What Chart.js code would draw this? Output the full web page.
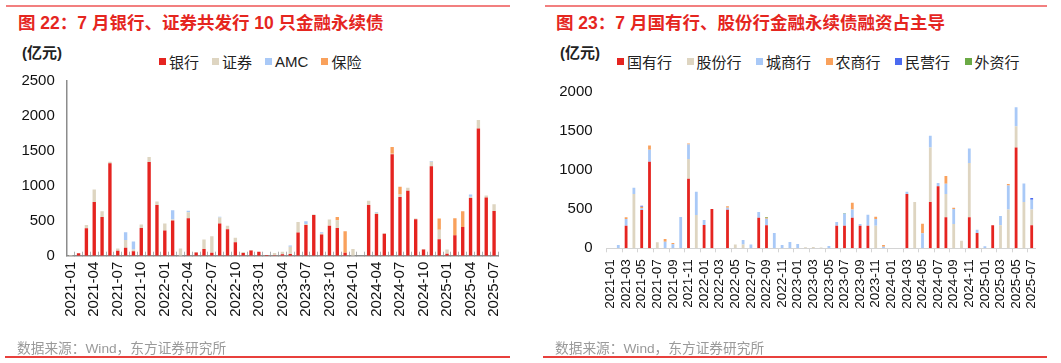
<!DOCTYPE html>
<html>
<head>
<meta charset="utf-8">
<script src="https://cdn.jsdelivr.net/npm/chart.js@4.4.1/dist/chart.umd.min.js"></script>
<style>
  body { margin: 0; width: 1061px; height: 363px; overflow: hidden; background: #fff;
         font-family: "Liberation Sans", "Noto Sans CJK SC", sans-serif; }
  .line-top { position: absolute; top: 5px; height: 2px; background: #F27F7F; }
  .line-bottom { position: absolute; top: 356px; height: 1.5px; background: #E8403C; }
  .title { position: absolute; top: 9px; font-size: 17.5px; font-weight: bold; color: #E5261F; white-space: nowrap; }
  .unit { position: absolute; top: 41px; font-size: 15px; font-weight: bold; color: #222; white-space: nowrap; }
  .source { position: absolute; top: 337px; font-size: 13.7px; color: #9a9a9a; white-space: nowrap; }
  .legend { position: absolute; top: 51px; height: 20px; display: flex; align-items: center; font-size: 15px; color: #222; white-space: nowrap; }
  .legend .item { display: flex; align-items: center; }
  .legend .box { width: 7px; height: 7px; margin-right: 3px; }
  canvas { position: absolute; top: 0; }
</style>
</head>
<body>

<div class="line-top" style="left:6px; width:504px;"></div>
<div class="title" style="left:18px;">图 22：7 月银行、证券共发行 10 只金融永续债</div>
<div class="unit" style="left:22px;">(亿元)</div>
<div class="legend" id="legend-issuer" style="left:159px;"></div>
<canvas id="issuer-chart" width="530" height="340" style="left:0;"></canvas>
<div class="source" style="left:17px;">数据来源：Wind，东方证券研究所</div>
<div class="line-bottom" style="left:5px; width:505px;"></div>

<div class="line-top" style="left:545px; width:502px;"></div>
<div class="title" style="left:556px;">图 23：7 月国有行、股份行金融永续债融资占主导</div>
<div class="unit" style="left:560px;">(亿元)</div>
<div class="legend" id="legend-bank" style="left:617px;"></div>
<canvas id="bank-chart" width="531" height="340" style="left:530px;"></canvas>
<div class="source" style="left:555px;">数据来源：Wind，东方证券研究所</div>
<div class="line-bottom" style="left:543px; width:504px;"></div>

<script>
// --- Data (亿元), monthly 2021-01 .. 2025-07 ---

const months = [
    '2021-01', '2021-02', '2021-03', '2021-04', '2021-05', '2021-06', '2021-07', '2021-08', '2021-09', '2021-10', '2021-11', '2021-12',
    '2022-01', '2022-02', '2022-03', '2022-04', '2022-05', '2022-06', '2022-07', '2022-08', '2022-09', '2022-10', '2022-11', '2022-12',
    '2023-01', '2023-02', '2023-03', '2023-04', '2023-05', '2023-06', '2023-07', '2023-08', '2023-09', '2023-10', '2023-11', '2023-12',
    '2024-01', '2024-02', '2024-03', '2024-04', '2024-05', '2024-06', '2024-07', '2024-08', '2024-09', '2024-10', '2024-11', '2024-12',
    '2025-01', '2025-02', '2025-03', '2025-04', '2025-05', '2025-06', '2025-07'
];

// Chart 22: by issuer type
const issuerLabels = ['银行', '证券', 'AMC', '保险'];
const issuerBank = [
    0, 35, 393, 768, 555, 1322, 71, 114, 62, 398, 1341, 725,
    360, 502, 0, 536, 47, 95, 43, 460, 379, 194, 38, 76,
    57, 10, 5, 19, 24, 332, 441, 583, 303, 427, 398, 43,
    0, 0, 725, 597, 313, 1450, 839, 929, 521, 90, 1280, 237,
    28, 294, 412, 825, 1820, 834, 640
];
const issuerSecurities = [
    10, 0, 48, 180, 80, 24, 33, 109, 28, 48, 72, 52,
    100, 15, 104, 85, 5, 137, 237, 85, 48, 62, 14, 4,
    0, 0, 33, 38, 104, 151, 14, 5, 15, 90, 109, 0,
    95, 0, 62, 19, 9, 10, 38, 43, 10, 5, 66, 133,
    62, 0, 0, 19, 123, 29, 95
];
const issuerAmc = [
    0, 0, 0, 0, 0, 0, 0, 114, 114, 0, 0, 0,
    0, 132, 0, 24, 0, 0, 0, 14, 0, 0, 0, 0,
    0, 0, 0, 0, 19, 0, 38, 0, 19, 0, 0, 0,
    0, 0, 0, 10, 0, 0, 0, 0, 0, 0, 10, 0,
    0, 0, 0, 33, 0, 0, 0
];
const issuerInsurance = [
    0, 0, 0, 0, 0, 0, 0, 0, 0, 0, 0, 0,
    0, 0, 0, 0, 0, 0, 0, 0, 0, 0, 0, 0,
    0, 0, 0, 0, 0, 0, 0, 0, 0, 0, 48, 308,
    0, 0, 0, 0, 0, 95, 109, 0, 0, 0, 0, 161,
    0, 242, 223, 0, 0, 0, 0
];

// Chart 23: banks by type
const bankLabels = ['国有行', '股份行', '城商行', '农商行', '民营行', '外资行'];
const bankStateOwned = [
    0, 0, 289, 0, 490, 1105, 0, 0, 0, 0, 888, 0,
    298, 502, 0, 493, 0, 0, 0, 391, 293, 0, 0, 0,
    0, 0, 0, 0, 0, 289, 289, 391, 289, 289, 0, 0,
    0, 0, 693, 0, 0, 591, 791, 395, 0, 0, 395, 196,
    0, 293, 0, 0, 1288, 0, 293
];
const bankJointStock = [
    0, 0, 0, 693, 0, 0, 77, 0, 0, 0, 251, 425,
    0, 0, 0, 0, 47, 47, 0, 0, 0, 0, 0, 0,
    0, 13, 17, 10, 0, 0, 0, 0, 0, 0, 289, 0,
    0, 0, 0, 591, 0, 697, 0, 298, 310, 98, 693, 0,
    0, 0, 293, 497, 272, 591, 204
];
const bankCity = [
    0, 42, 85, 80, 20, 153, 0, 85, 51, 400, 187, 298,
    63, 0, 0, 25, 0, 59, 47, 72, 85, 196, 42, 81,
    55, 0, 0, 0, 30, 47, 157, 106, 21, 140, 85, 21,
    0, 0, 30, 0, 191, 149, 42, 132, 192, 0, 187, 42,
    26, 0, 119, 306, 242, 238, 123
];
const bankRural = [
    0, 0, 21, 0, 22, 55, 0, 34, 17, 0, 13, 0,
    0, 0, 0, 18, 0, 0, 0, 0, 13, 0, 0, 0,
    0, 0, 0, 0, 0, 0, 0, 85, 0, 0, 30, 21,
    0, 0, 0, 0, 124, 0, 0, 97, 17, 0, 0, 0,
    0, 0, 0, 17, 0, 0, 0
];
const bankPrivate = [
    0, 0, 0, 0, 12, 0, 0, 0, 0, 0, 0, 0,
    0, 0, 0, 0, 0, 0, 0, 0, 0, 0, 0, 0,
    0, 0, 0, 0, 0, 0, 0, 0, 0, 0, 0, 0,
    0, 0, 0, 0, 0, 0, 0, 0, 0, 0, 0, 0,
    0, 0, 0, 0, 0, 0, 22
];
const bankForeign = [
    0, 0, 0, 0, 0, 0, 0, 0, 0, 0, 0, 0,
    0, 0, 0, 0, 0, 0, 0, 0, 9, 0, 0, 0,
    0, 0, 0, 0, 0, 0, 4, 0, 0, 0, 0, 0,
    0, 0, 0, 0, 0, 0, 0, 0, 0, 0, 0, 0,
    0, 0, 0, 0, 0, 0, 0
];

const RED = '#E52420';
const BEIGE = '#DED5C1';
const LIGHT_BLUE = '#A9C9F7';
const ORANGE = '#F9A15C';
const BLUE = '#4B6AF0';
const GREEN = '#6BAA45';

Chart.defaults.font.family = '"Liberation Sans", "Noto Sans CJK SC", sans-serif';
Chart.defaults.color = '#111';

// Simple HTML legend from the chart's datasets
function buildLegend(containerId, chart, gap) {
    const el = document.getElementById(containerId);
    el.innerHTML = chart.data.datasets.map((ds, i) =>
        `<span class="item" style="margin-right:${i < chart.data.datasets.length - 1 ? gap : 0}px">` +
        `<span class="box" style="background:${ds.backgroundColor}"></span>${ds.label}</span>`
    ).join('');
}

function makeDataset(label, data, color, pct) {
    return {
        label: label,
        data: data,
        backgroundColor: color,
        borderWidth: 0,
        barPercentage: pct,
        categoryPercentage: 1
    };
}

// plain numbers on the value axis (no thousands separator)
const plainTick = (value) => String(value);

function renderIssuerChart() {
    const ctx = document.getElementById('issuer-chart');
    const chart = new Chart(ctx, {
        type: 'bar',
        data: {
            labels: months,
            datasets: [
                makeDataset(issuerLabels[0], issuerBank, RED, 0.43),
                makeDataset(issuerLabels[1], issuerSecurities, BEIGE, 0.43),
                makeDataset(issuerLabels[2], issuerAmc, LIGHT_BLUE, 0.43),
                makeDataset(issuerLabels[3], issuerInsurance, ORANGE, 0.43)
            ]
        },
        options: {
            responsive: false,
            animation: false,
            layout: { padding: { left: 0, right: 32, top: 81, bottom: 0 } },
            plugins: { legend: { display: false }, tooltip: { enabled: false } },
            scales: {
                x: {
                    stacked: true,
                    afterFit: (scale) => { scale.height = 84.3; },
                    border: { display: true, color: '#8c8c8c', width: 1.5 },
                    // small tick marks pointing up into the plot
                    grid: { display: true, drawOnChartArea: false, drawTicks: true, tickLength: -4, tickColor: '#b0b0b0', tickWidth: 1 },
                    ticks: {
                        autoSkip: false, minRotation: 90, maxRotation: 90, padding: 10,
                        font: { size: 15 }, color: '#111',
                        callback: function (value, index) { return index % 3 === 0 ? this.getLabelForValue(value) : ''; }
                    }
                },
                y: {
                    stacked: true,
                    min: 0, max: 2500,
                    afterFit: (scale) => { scale.width = 66.8; },
                    border: { display: true, color: '#8c8c8c', width: 1.5 },
                    grid: { display: false, drawTicks: false, tickLength: 0 },
                    ticks: { stepSize: 500, padding: 12, font: { size: 15 }, color: '#111', callback: plainTick }
                }
            }
        }
    });
    buildLegend('legend-issuer', chart, 13);
}

function renderBankChart() {
    const ctx = document.getElementById('bank-chart');
    const chart = new Chart(ctx, {
        type: 'bar',
        data: {
            labels: months,
            datasets: [
                makeDataset(bankLabels[0], bankStateOwned, RED, 0.36),
                makeDataset(bankLabels[1], bankJointStock, BEIGE, 0.36),
                makeDataset(bankLabels[2], bankCity, LIGHT_BLUE, 0.36),
                makeDataset(bankLabels[3], bankRural, ORANGE, 0.36),
                makeDataset(bankLabels[4], bankPrivate, BLUE, 0.36),
                makeDataset(bankLabels[5], bankForeign, GREEN, 0.36)
            ]
        },
        options: {
            responsive: false,
            animation: false,
            layout: { padding: { left: 0, right: 25.4, top: 91.7, bottom: 0 } },
            plugins: { legend: { display: false }, tooltip: { enabled: false } },
            scales: {
                x: {
                    stacked: true,
                    afterFit: (scale) => { scale.height = 91.7; },
                    border: { display: true, color: '#d4d4d4', width: 1 },
                    grid: {
                        display: true, drawOnChartArea: false, drawTicks: true, tickLength: 4, tickWidth: 1,
                        tickColor: (c) => (c.index % 2 === 0 ? '#d4d4d4' : 'rgba(0,0,0,0)')
                    },
                    ticks: {
                        autoSkip: false, minRotation: 90, maxRotation: 90, padding: 7,
                        font: { size: 13.5 }, color: '#111',
                        callback: function (value, index) { return index % 2 === 0 ? this.getLabelForValue(value) : ''; }
                    }
                },
                y: {
                    stacked: true,
                    min: 0, max: 2000,
                    afterFit: (scale) => { scale.width = 76.6; },
                    border: { display: false },
                    grid: { display: false, drawTicks: false, tickLength: 0 },
                    ticks: { stepSize: 500, padding: 14, font: { size: 15 }, color: '#111', callback: plainTick }
                }
            }
        }
    });
    buildLegend('legend-bank', chart, 14.5);
}

renderIssuerChart();
renderBankChart();
</script>
</body>
</html>
